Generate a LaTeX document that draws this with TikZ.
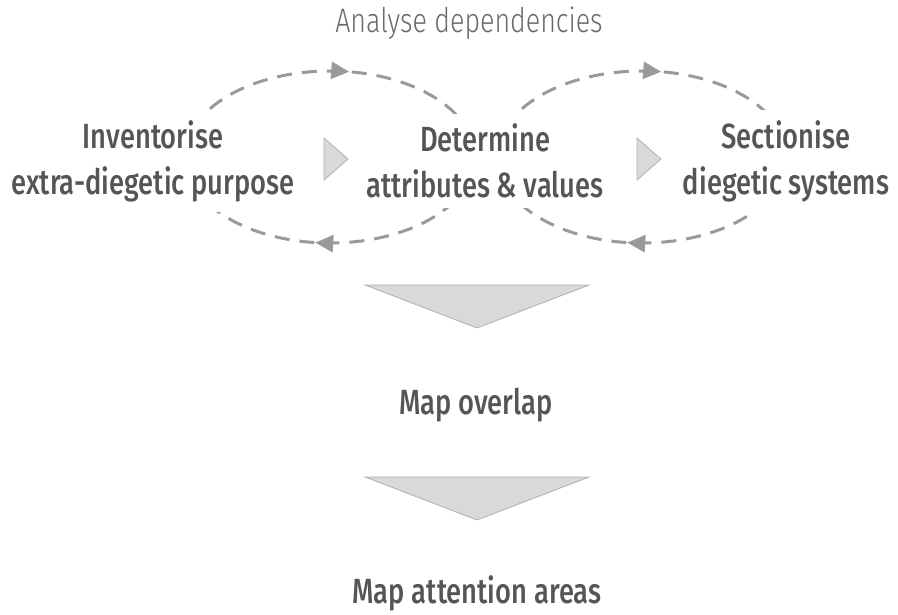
\documentclass[tikz,border=0pt]{standalone}
\usepackage{fontspec}
\setmainfont{Fira Sans Medium}[FakeStretch=0.78]
\newfontfamily\lightfont{Fira Sans Light}[FakeStretch=0.79]
\usetikzlibrary{arrows.meta,decorations.markings}
\definecolor{txt}{HTML}{555555}
\definecolor{ttl}{HTML}{6A6A6A}
\definecolor{loop}{HTML}{9A9A9A}
\definecolor{trifill}{HTML}{D9D9D9}
\definecolor{triline}{HTML}{B0B0B0}
\tikzset{
  lbl/.style={font=\fontsize{35}{46}\selectfont, text=txt, align=center, fill=white, inner xsep=2pt, inner ysep=10pt},
  loopline/.style={draw=loop, line width=3pt, dash pattern=on 15pt off 10pt},
  tri/.style={fill=trifill, draw=triline, line width=0.8pt},
  mk/.style={postaction={decorate, decoration={markings,
     mark=at position #1 with {\arrow[loop, solid]{Triangle[length=18pt,width=17pt]}}}}}
}
\begin{document}
\begin{tikzpicture}[x=1pt,y=-1pt]
\useasboundingbox (0,0) rectangle (898,614);
% loops
\draw[loopline, mk=0.27, mk=0.776] (330,157) ellipse [x radius=145, y radius=86];
\draw[loopline, mk=0.27, mk=0.776] (642,157) ellipse [x radius=145, y radius=86];
% labels
\node[lbl] (a) at (153,161) {Inventorise\\extra-diegetic purpose};
\node[lbl] (b) at (485,161) {Determine\\attributes \& values};
\node[lbl] (c) at (786,161) {Sectionise\\diegetic systems};
\node[font=\lightfont\fontsize{34}{38}\selectfont, text=ttl] (t) at (469,23) {Analyse dependencies};
% small arrows
\draw[tri] (324,138) -- (348,159) -- (324,180) -- cycle;
\draw[tri] (637,138) -- (661,159) -- (637,180) -- cycle;
% big arrows
\draw[tri] (365,285) -- (589,285) -- (477,328) -- cycle;
\node[lbl, fill=none] (d) at (476,405) {Map overlap};
\draw[tri] (365,477) -- (589,477) -- (477,520) -- cycle;
\node[lbl, fill=none] (e) at (477,593) {Map attention areas};
\end{tikzpicture}
\end{document}
